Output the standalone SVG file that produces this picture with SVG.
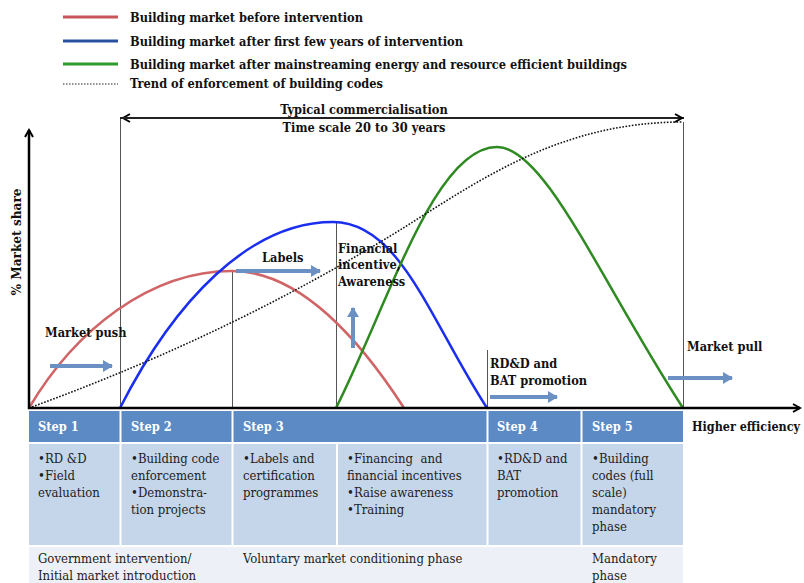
<svg xmlns="http://www.w3.org/2000/svg" width="804" height="583" viewBox="0 0 804 583">
<defs>
<style>
.lg,.bd,.st{font-family:"DejaVu Serif Condensed","DejaVu Serif",serif;font-stretch:condensed;font-weight:bold;font-size:12.7px;fill:#111}
.tx{font-family:"DejaVu Serif Condensed","DejaVu Serif",serif;font-stretch:condensed;font-size:13px;fill:#222}
.st{fill:#fff}
.ba{stroke:#6a90c4;stroke-width:4;fill:none;marker-end:url(#ba)}
.vl{stroke:#555;stroke-width:1;fill:none}
</style>
<marker id="ax" markerWidth="10" markerHeight="10" refX="8" refY="5" orient="auto" markerUnits="userSpaceOnUse"><path d="M1,1 L8,5 L1,9" fill="none" stroke="#000" stroke-width="2"/></marker>
<marker id="ba" markerWidth="14" markerHeight="14" refX="9" refY="7" orient="auto" markerUnits="userSpaceOnUse"><path d="M0,1 L10,7 L0,13 Z" fill="#6a90c4"/></marker>
</defs>
<rect width="804" height="583" fill="#fff"/>
<g id="legend">
<line x1="63" y1="17" x2="118" y2="17" stroke="#c8555a" stroke-width="3"/>
<line x1="63" y1="41" x2="118" y2="41" stroke="#2a50a0" stroke-width="3"/>
<line x1="63" y1="64" x2="118" y2="64" stroke="#2d9a2d" stroke-width="3"/>
<line x1="63" y1="84" x2="118" y2="84" stroke="#222" stroke-width="1.2" stroke-dasharray="1.5,1.5"/>
<text class="lg" x="130" y="22">Building market before intervention</text>
<text class="lg" x="130" y="46">Building market after first few years of intervention</text>
<text class="lg" x="130" y="69">Building market after mainstreaming energy and resource efficient buildings</text>
<text class="lg" x="130" y="88">Trend of enforcement of building codes</text>
</g>
<g id="table">
<rect x="29" y="411" width="654" height="31" fill="#5b8ac5"/>
<rect x="29" y="444" width="654" height="101" fill="#c6d6ea"/>
<rect x="29" y="547" width="654" height="36" fill="#edf1f7"/>
<g stroke="#fff" stroke-width="2">
<line x1="120.5" y1="411" x2="120.5" y2="545"/>
<line x1="232.5" y1="411" x2="232.5" y2="545"/>
<line x1="337" y1="444" x2="337" y2="545"/>
<line x1="487.5" y1="411" x2="487.5" y2="545"/>
<line x1="581.5" y1="411" x2="581.5" y2="545"/>
</g>
<text class="st" x="38" y="431">Step 1</text>
<text class="st" x="131" y="431">Step 2</text>
<text class="st" x="243" y="431">Step 3</text>
<text class="st" x="497" y="431">Step 4</text>
<text class="st" x="592" y="431">Step 5</text>
<text class="tx" x="38" y="463">•RD &amp;D</text>
<text class="tx" x="38" y="480">•Field</text>
<text class="tx" x="38" y="497">evaluation</text>
<text class="tx" x="131" y="463">•Building code</text>
<text class="tx" x="131" y="480">enforcement</text>
<text class="tx" x="131" y="497">•Demonstra-</text>
<text class="tx" x="131" y="514">tion projects</text>
<text class="tx" x="243" y="463">•Labels and</text>
<text class="tx" x="243" y="480">certification</text>
<text class="tx" x="243" y="497">programmes</text>
<text class="tx" x="347" y="463" xml:space="preserve">•Financing  and</text>
<text class="tx" x="347" y="480">financial incentives</text>
<text class="tx" x="347" y="497">•Raise awareness</text>
<text class="tx" x="347" y="514">•Training</text>
<text class="tx" x="497" y="463">•RD&amp;D and</text>
<text class="tx" x="497" y="480">BAT</text>
<text class="tx" x="497" y="497">promotion</text>
<text class="tx" x="592" y="463">•Building</text>
<text class="tx" x="592" y="480">codes (full</text>
<text class="tx" x="592" y="497">scale)</text>
<text class="tx" x="592" y="514">mandatory</text>
<text class="tx" x="592" y="531">phase</text>
<text class="tx" x="38" y="563">Government intervention/</text>
<text class="tx" x="38" y="580">Initial market introduction</text>
<text class="tx" x="243" y="563">Voluntary market conditioning phase</text>
<text class="tx" x="592" y="563">Mandatory</text>
<text class="tx" x="592" y="580">phase</text>
</g>
<g id="guides">
<line class="vl" x1="120.5" y1="118" x2="120.5" y2="408" stroke="#888"/>
<line class="vl" x1="683.5" y1="122" x2="683.5" y2="408" stroke="#888"/>
<line class="vl" x1="232.5" y1="271" x2="232.5" y2="408"/>
<line class="vl" x1="336.5" y1="222" x2="336.5" y2="408"/>
<line class="vl" x1="487.5" y1="350" x2="487.5" y2="408"/>
</g>
<g id="curves">
<path d="M29,408 C75,330 150,271 232,271 C300,271 360,340 404,408" fill="none" stroke="#d06466" stroke-width="2.5"/>
<path d="M120,408 C175,300 250,222 333,222 C400,222 430,320 487,408" fill="none" stroke="#1a2ef0" stroke-width="2.5"/>
<path d="M336,408 C390,300 435,147 497,147 C545,147 600,280 683,408" fill="none" stroke="#2f8a22" stroke-width="2.5"/>
<path d="M29,408 Q230,335 400,230 C480,180 560,122 683,122" fill="none" stroke="#111" stroke-width="1.6" stroke-dasharray="1.6,1.6"/>
</g>
<g id="axes">
<line x1="29" y1="409" x2="29" y2="130" stroke="#000" stroke-width="2.5" marker-end="url(#ax)"/>
<line x1="28" y1="408" x2="800" y2="408" stroke="#000" stroke-width="2.5" marker-end="url(#ax)"/>
<line x1="684" y1="118" x2="123" y2="118" stroke="#222" stroke-width="1.8" marker-end="url(#ax)"/>
<line x1="120" y1="118" x2="682" y2="118" stroke="#222" stroke-width="1.8" marker-end="url(#ax)"/>
<text class="bd" transform="translate(21,242) rotate(-90)" text-anchor="middle" style="font-size:13.5px">% Market share</text>
<text class="bd" x="692" y="431" textLength="108" lengthAdjust="spacingAndGlyphs">Higher efficiency</text>
<text class="bd" x="364" y="114" text-anchor="middle">Typical commercialisation</text>
<text class="bd" x="364" y="132" text-anchor="middle">Time scale 20 to 30 years</text>
</g>
<g id="annotations">
<text class="bd" x="45" y="337">Market push</text>
<line class="ba" x1="50" y1="366" x2="112" y2="366"/>
<text class="bd" x="262" y="262">Labels</text>
<line class="ba" x1="236" y1="271" x2="320" y2="271"/>
<text class="bd" x="338" y="253">Financial</text>
<text class="bd" x="338" y="269">incentive,</text>
<text class="bd" x="338" y="286">Awareness</text>
<line class="ba" x1="353" y1="348" x2="353" y2="308"/>
<text class="bd" x="490" y="368">RD&amp;D and</text>
<text class="bd" x="490" y="385">BAT promotion</text>
<line class="ba" x1="490" y1="397" x2="557" y2="397"/>
<text class="bd" x="687" y="351">Market pull</text>
<line class="ba" x1="668" y1="378" x2="732" y2="378"/>
</g>
</svg>
